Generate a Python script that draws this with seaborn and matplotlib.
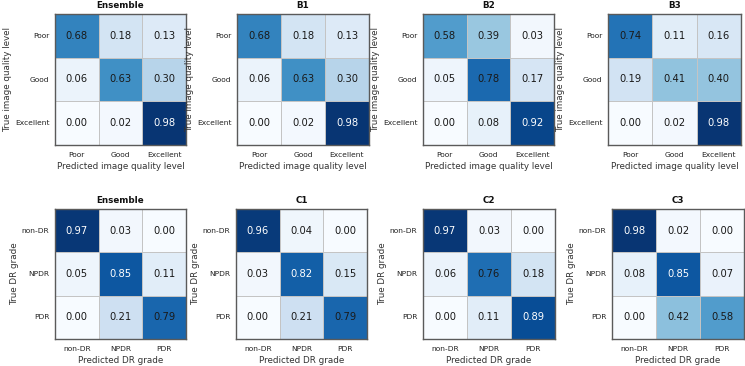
import numpy as np
import matplotlib
matplotlib.use("Agg")
import matplotlib.pyplot as plt
import seaborn as sns

# ---- data ----
quality_labels = ["Poor", "Good", "Excellent"]
dr_labels = ["non-DR", "NPDR", "PDR"]

quality_titles = ["Ensemble", "B1", "B2", "B3"]
dr_titles = ["Ensemble", "C1", "C2", "C3"]

q_ensemble = [[0.68, 0.18, 0.13], [0.06, 0.63, 0.30], [0.00, 0.02, 0.98]]
q_b1 = [[0.68, 0.18, 0.13], [0.06, 0.63, 0.30], [0.00, 0.02, 0.98]]
q_b2 = [[0.58, 0.39, 0.03], [0.05, 0.78, 0.17], [0.00, 0.08, 0.92]]
q_b3 = [[0.74, 0.11, 0.16], [0.19, 0.41, 0.40], [0.00, 0.02, 0.98]]

d_ensemble = [[0.97, 0.03, 0.00], [0.05, 0.85, 0.11], [0.00, 0.21, 0.79]]
d_c1 = [[0.96, 0.04, 0.00], [0.03, 0.82, 0.15], [0.00, 0.21, 0.79]]
d_c2 = [[0.97, 0.03, 0.00], [0.06, 0.76, 0.18], [0.00, 0.11, 0.89]]
d_c3 = [[0.98, 0.02, 0.00], [0.08, 0.85, 0.07], [0.00, 0.42, 0.58]]

quality_mats = [q_ensemble, q_b1, q_b2, q_b3]
dr_mats = [d_ensemble, d_c1, d_c2, d_c3]

# ---- layout (pixel boxes) ----
W, H = 745, 366
top_x = [(55, 186), (237, 369), (423, 554), (608, 741)]
top_y = (14, 145)
bot_x = [(55, 186), (236, 367), (423, 555), (612, 744)]
bot_y = (209, 339)

sns.set_theme(style="white")
plt.rcParams["font.family"] = ["DejaVu Sans"]

fig = plt.figure(figsize=(W / 100, H / 100), dpi=100)


def draw(mat, labels, title, xb, yb, xlabel, ylabel):
    ax = fig.add_axes([xb[0] / W, 1 - yb[1] / H, (xb[1] - xb[0]) / W, (yb[1] - yb[0]) / H])
    arr = np.array(mat)
    sns.heatmap(arr, ax=ax, annot=True, fmt=".2f", cmap="Blues", vmin=0, vmax=1,
                cbar=False, linewidths=0.5, linecolor="#c4c4c4",
                xticklabels=labels, yticklabels=labels,
                annot_kws={"fontsize": 7.2})
    vals = arr.flatten()
    for t, v in zip(ax.texts, vals):
        t.set_color("white" if v > 0.8 else "#1a1a1a")
    for s in ax.spines.values():
        s.set_visible(True)
        s.set_color("#5a5a5a")
        s.set_linewidth(1.0)
    ax.tick_params(axis="x", length=0, pad=5, labelsize=5.4, colors="#222222")
    ax.tick_params(axis="y", length=0, pad=4, labelsize=5.4, colors="#222222")
    plt.setp(ax.get_yticklabels(), rotation=0)
    plt.setp(ax.get_xticklabels(), rotation=0)
    ax.set_title(title, fontsize=6.3, fontweight="bold", pad=4, color="#111111")
    ax.set_xlabel(xlabel, fontsize=6.3, labelpad=3, color="#333333")
    ax.set_ylabel(ylabel, fontsize=6.3, labelpad=2, color="#333333")
    return ax


for mat, title, xb in zip(quality_mats, quality_titles, top_x):
    draw(mat, quality_labels, title, xb, top_y,
         "Predicted image quality level", "True image quality level")

for mat, title, xb in zip(dr_mats, dr_titles, bot_x):
    draw(mat, dr_labels, title, xb, bot_y,
         "Predicted DR grade", "True DR grade")

fig.savefig("out.png", dpi=100)
